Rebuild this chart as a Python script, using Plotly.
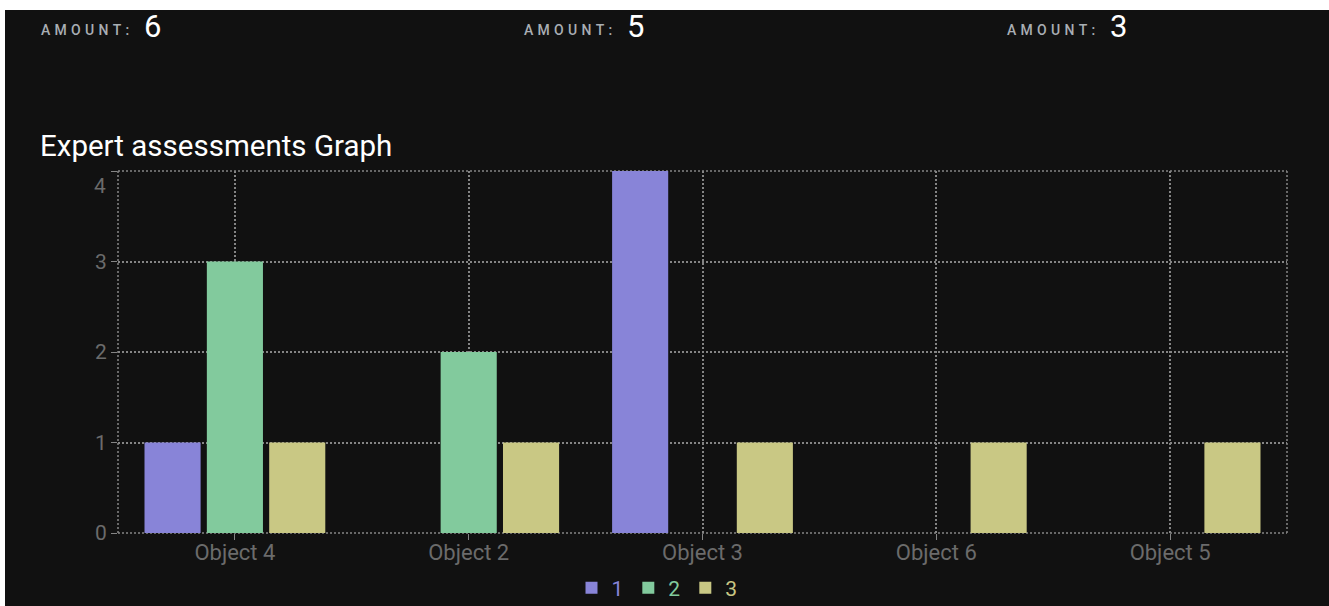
import plotly.graph_objects as go

categories = ["Object 4", "Object 2", "Object 3", "Object 6", "Object 5"]
series_names = ["1", "2", "3"]
series_1 = [1, 0, 4, 0, 0]
series_2 = [3, 2, 0, 0, 0]
series_3 = [1, 1, 1, 1, 1]
amount_values = [6, 5, 3]
y_ticks = [0, 1, 2, 3, 4]

colors = ["#8884d8", "#82ca9d", "#c9c884"]
W, H = 1329, 606
L, R, T, BM = 118, 42, 171, 40      # figure margins
PLOT_BOTTOM = 533                    # pixel row of y = 0
PW, PH = W - L - R, H - T - BM       # paper area
grid_col = "#858585"
label_col = "#6b6b6b"
dash = "2px,2px"
font = "Roboto"


def px(x):
    return (x - L) / PW


def py(y):
    return (H - BM - y) / PH


fig = go.Figure()
for name, vals, c in zip(series_names, [series_1, series_2, series_3], colors):
    fig.add_trace(go.Bar(
        x=categories, y=vals,
        name=f"<span style='color:{c}'>{name}</span>",
        marker=dict(color=c, line=dict(width=0)),
    ))

y_bot, y_top = py(PLOT_BOTTOM), py(T)
shapes = []
# white strips at top and left
shapes.append(dict(type="rect", xref="paper", yref="paper", x0=px(-50), x1=px(W + 50),
                   y0=py(10), y1=py(-50), fillcolor="#ffffff", line=dict(width=0), layer="below"))
shapes.append(dict(type="rect", xref="paper", yref="paper", x0=px(-50), x1=px(5),
                   y0=py(H + 50), y1=py(-50), fillcolor="#ffffff", line=dict(width=0), layer="below"))
# plot border dotted lines
for xx in [L, W - R]:
    shapes.append(dict(type="line", xref="paper", yref="paper", x0=px(xx), x1=px(xx), y0=y_bot, y1=y_top,
                       line=dict(color=grid_col, width=1.5, dash=dash), layer="below"))
for yy in [y_bot, y_top]:
    shapes.append(dict(type="line", xref="paper", yref="paper", x0=0, x1=1, y0=yy, y1=yy,
                       line=dict(color=grid_col, width=1.5, dash=dash), layer="below"))

annotations = []
for i, (xa, v) in enumerate(zip([40, 523, 1006], amount_values)):
    annotations.append(dict(xref="paper", yref="paper", x=px(xa - 1), y=py(30), xanchor="left", yanchor="middle",
                            text="\u2009\u200a".join("AMOUNT:"), showarrow=False,
                            font=dict(family=font, size=14, color="#a9aeb4", weight=500)))
    annotations.append(dict(xref="paper", yref="paper", x=px(xa + 102), y=py(26), xanchor="left", yanchor="middle",
                            text=str(v), showarrow=False,
                            font=dict(family=font, size=31, color="#ffffff")))
annotations.append(dict(xref="paper", yref="paper", x=px(38), y=py(146), xanchor="left", yanchor="middle",
                        text="Expert assessments Graph", showarrow=False,
                        font=dict(family=font, size=29.5, color="#ffffff")))
# top y tick label sits just below its gridline in the reference
annotations.append(dict(xref="paper", yref="paper", x=px(108), y=py(186), xanchor="right", yanchor="middle",
                        text=str(y_ticks[-1]), showarrow=False,
                        font=dict(family=font, size=21, color=label_col)))

fig.update_layout(
    width=W, height=H,
    margin=dict(l=L, r=R, t=T, b=BM, pad=0),
    paper_bgcolor="#111111",
    plot_bgcolor="rgba(0,0,0,0)",
    barmode="group", bargap=0.2, bargroupgap=0.1,
    shapes=shapes, annotations=annotations,
    showlegend=True,
    legend=dict(orientation="h", x=px(657), xanchor="center", yref="container", y=1 - 588 / H, yanchor="middle",
                font=dict(family=font, size=21, color="#cccccc"), bgcolor="rgba(0,0,0,0)",
                itemwidth=30, tracegroupgap=0),
    font=dict(family=font),
)
fig.update_xaxes(
    showgrid=True, gridcolor=grid_col, griddash=dash, gridwidth=1.5,
    ticks="outside", ticklen=6, tickcolor=grid_col,
    tickfont=dict(family=font, size=22, color=label_col),
    ticklabelstandoff=-6,
    showline=False, zeroline=False, automargin=False,
)
fig.update_yaxes(
    domain=[y_bot, 1], range=[0, 4], tickvals=y_ticks,
    ticktext=[str(t) for t in y_ticks[:-1]] + [""],
    showgrid=True, gridcolor=grid_col, griddash=dash, gridwidth=1.5,
    ticks="outside", ticklen=6, tickcolor=grid_col,
    tickfont=dict(family=font, size=21, color=label_col),
    showline=False, zeroline=False, automargin=False,
)
fig.write_html("out.html")
